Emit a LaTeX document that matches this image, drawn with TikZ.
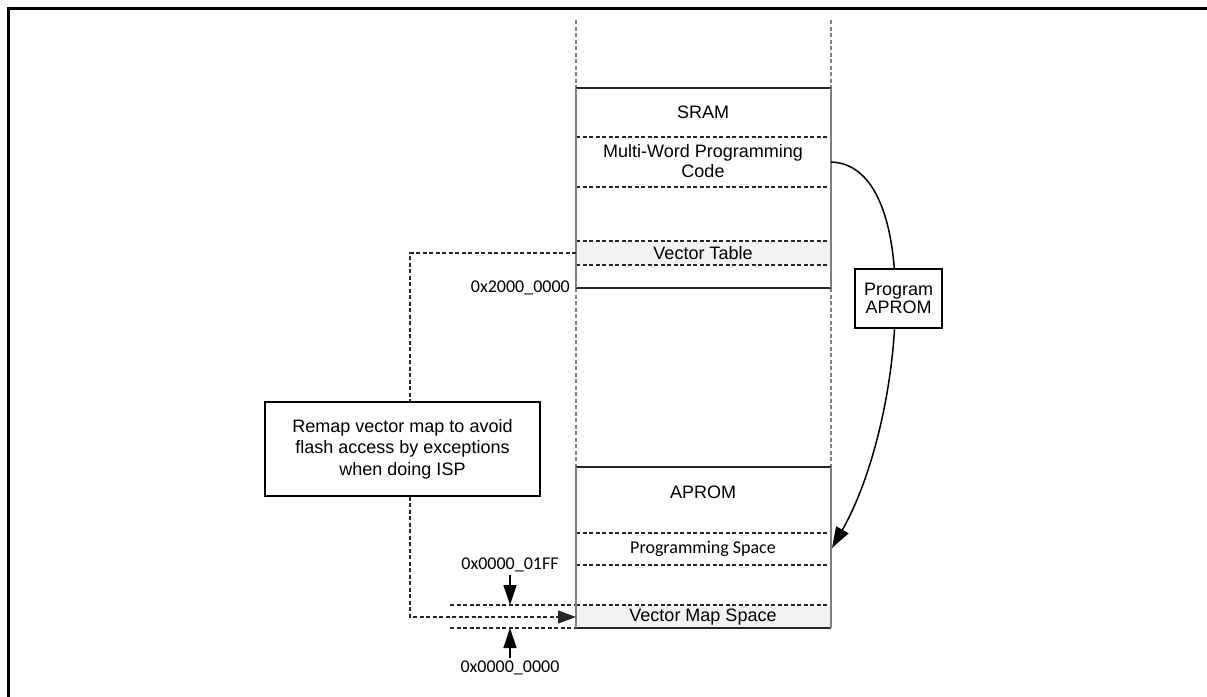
\documentclass[tikz,border=0pt]{standalone}
\usepackage{fontspec}
\setmainfont{Liberation Sans}
\newfontfamily\calfont{Carlito}
\usetikzlibrary{arrows.meta}
\definecolor{edgegray}{HTML}{7F7F7F}
\definecolor{vtfill}{HTML}{F2F2F2}
\begin{document}
\begin{tikzpicture}[x=1pt,y=-1pt,
  font=\fontsize{18}{20}\selectfont,
  txt/.style={inner sep=0pt, align=center},
  addr/.style={inner sep=0pt, font=\calfont\fontsize{18}{20}\selectfont},
  edge/.style={draw=edgegray, line width=2pt},
  solidh/.style={draw=black!85, line width=1.3pt},
  dashh/.style={draw=black!85, line width=1.1pt, dash pattern=on 4pt off 2.5pt},
  vdash/.style={draw=edgegray, line width=1.6pt, dash pattern=on 4pt off 2.5pt},
  boxnode/.style={draw, line width=1.2pt, fill=white, align=center, inner sep=0pt},
  arr/.style={line width=1.3pt, -{Triangle[length=20pt,width=13pt]}},
]
\useasboundingbox (0,0) rectangle (1207,696);
% frame
\draw[line width=3pt] (8,700) -- (8,8) -- (1210,8);
% fills
\fill[vtfill] (576,241) rectangle (831,265);
\fill[vtfill] (576,605) rectangle (831,628);
% dashed verticals
\draw[vdash] (576,20) -- (576,88);
\draw[vdash] (831,20) -- (831,88);
\draw[vdash] (576,288) -- (576,467);
\draw[vdash] (831,288) -- (831,467);
% dashed horizontals
\foreach \yy in {137,187,241,265,533,565,605}
  \draw[dashh] (576,\yy) -- (831,\yy);
\draw[dashh] (450,605) -- (576,605);
\draw[dashh] (450,628) -- (576,628);
% solid horizontals
\foreach \yy in {88,288,467,628}
  \draw[solidh] (576,\yy) -- (831,\yy);
% edges
\draw[edge] (576,88) -- (576,288);
\draw[edge] (831,88) -- (831,288);
\draw[edge] (576,467) -- (576,628);
\draw[edge] (831,467) -- (831,628);
% labels
\node[txt] (sram) at (703,112) {SRAM};
\node[txt] (mwp) at (703,161) {Multi-Word Programming\\Code};
\node[txt] (vt) at (703,253) {Vector Table};
\node[addr, anchor=east] (a2000) at (570,288) {0x2000\_0000};
\node[txt] (aprom) at (703,492) {APROM};
\node[addr] (ps) at (703,549) {Programming Space};
\node[txt] (vms) at (703,617) {Vector Map Space};
\node[addr] (a1ff) at (510,565) {0x0000\_01FF};
\node[addr] (a0) at (510,668) {0x0000\_0000};
% coordinates
\coordinate (vtL) at (576,253);
\coordinate (vmsL) at (576,617);
\coordinate (c1) at (410,253);
\coordinate (c2) at (410,617);
\coordinate (top1ff) at (510,605);
\coordinate (bot0) at (510,628);
\coordinate (mwpR) at (831,162);
\coordinate (psR) at (832,548);
% address arrows
\draw[arr] (a1ff.south) ++(0,3) -- (top1ff);
\draw[arr] (a0.north) ++(0,-3) -- (bot0);
% remap dashed path
\draw[dashh, -{Triangle[length=18pt,width=13pt]}] (vtL) -- (c1) -- (c2) -- (vmsL);
% program curve
\draw[line width=1.5pt, -{Triangle[length=21pt,width=14pt]}] (mwpR) .. controls (925,165) and (905,420) .. (psR);
% boxes
\node[boxnode, minimum width=275pt, minimum height=94pt,
  font=\fontsize{18}{21.5}\selectfont] (remap) at (402.5,449)
  {Remap vector map to avoid\\flash access by exceptions\\when doing ISP};
\node[boxnode, minimum width=87pt, minimum height=59pt,
  font=\fontsize{18}{18.5}\selectfont] (prog) at (898.5,298.5)
  {Program\\APROM};
\end{tikzpicture}
\end{document}
